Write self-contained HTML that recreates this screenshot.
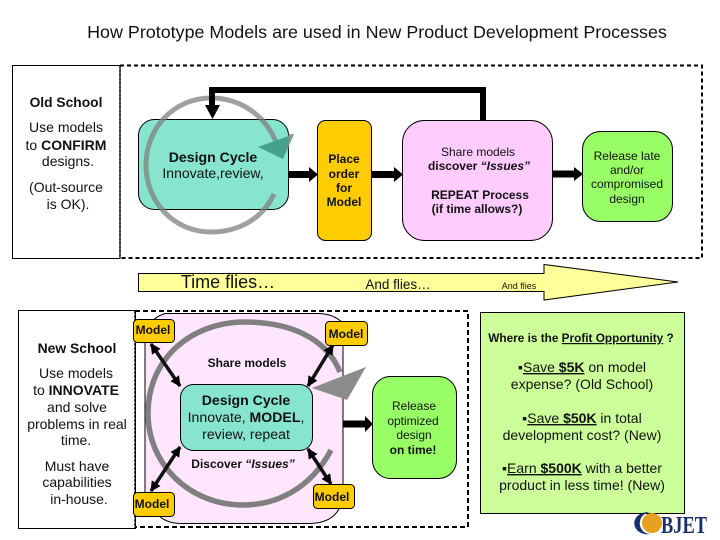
<!DOCTYPE html>
<html><head><meta charset="utf-8"><style>
html,body{margin:0;padding:0;background:#fff}
svg{display:block}
text{font-family:"Liberation Sans",sans-serif;fill:#111;text-anchor:middle}
.b{font-weight:bold}
</style></head><body>
<svg width="720" height="540" viewBox="0 0 720 540" xmlns="http://www.w3.org/2000/svg">
<defs>
<marker id="ah" viewBox="0 0 10 10" refX="9" refY="5" markerWidth="3" markerHeight="3" orient="auto-start-reverse"><path d="M0 0L10 5L0 10z" fill="#000"/></marker>
</defs>
<text x="377" y="38" font-size="17.900">How Prototype Models are used in New Product Development Processes</text>

<rect x="12.500" y="65.500" width="107.500" height="193" fill="#fff" stroke="#000"/>
<path d="M120 65.500H702V258H120" fill="none" stroke="#000" stroke-width="2" stroke-dasharray="4 3"/>
<path d="M120 65.500V258" fill="none" stroke="#000" stroke-width="1.500" stroke-dasharray="3 1"/>
<text x="66" y="107" font-size="13.800" class="b">Old School</text>
<g font-size="14">
<text x="66" y="132">Use models</text>
<text x="66" y="150">to <tspan class="b">CONFIRM</tspan></text>
<text x="68" y="166">designs.</text>
<text x="66" y="192">(Out-source</text>
<text x="68" y="209">is OK).</text>
</g>

<rect x="138.500" y="119.500" width="150" height="90" rx="16" fill="#87e5cf" stroke="#000"/>
<path d="M274 194C262 220 237 232 211 232C174 232 146 202 146 165C146 128 174 98 211 98C240 98 265 115 276 142" fill="none" stroke="#808080" stroke-opacity=".75" stroke-width="5"/>
<path d="M258 147L294 134L283 159z" fill="#45a08c"/>
<path d="M288.500 134L294 134L286 150L288.500 150z" fill="#999" opacity=".8"/>
<text x="213" y="162" font-size="14.100" class="b">Design Cycle</text>
<text x="213" y="178" font-size="14">Innovate,review,</text>

<path d="M483 120V90H212V105" fill="none" stroke="#000" stroke-width="6"/>
<path d="M205 105H220L212.500 119z" fill="#000"/>
<path d="M288 174.500H310" stroke="#000" stroke-width="7"/><path d="M309 167L318 174.500L309 182z" fill="#000"/>
<path d="M371 174.500H395" stroke="#000" stroke-width="7"/><path d="M394 167L403 174.500L394 182z" fill="#000"/>
<path d="M552 174H575" stroke="#000" stroke-width="7"/><path d="M574 167L583 174L574 181z" fill="#000"/>

<rect x="317.500" y="120.500" width="54" height="120" rx="8" fill="#ffcc00" stroke="#000"/>
<g font-size="12" class="b">
<text x="344" y="163">Place</text><text x="344" y="178">order</text><text x="344" y="192">for</text><text x="344" y="206">Model</text>
</g>
<rect x="402.500" y="120.500" width="150" height="120" rx="22" fill="#ffccff" stroke="#000"/>
<text x="478" y="156" font-size="12">Share models</text>
<text x="479" y="170" font-size="12" class="b">discover <tspan font-style="italic">“Issues”</tspan></text>
<text x="480" y="199" font-size="12" class="b">REPEAT Process</text>
<text x="477" y="213" font-size="12" class="b">(if time allows?)</text>
<rect x="582.500" y="131.500" width="90" height="90" rx="18" fill="#99ff66" stroke="#000"/>
<g font-size="12"><text x="627" y="160">Release late</text><text x="627" y="174">and/or</text><text x="627" y="188">compromised</text><text x="627" y="203">design</text></g>

<path d="M138.500 273.500H544V264.500L678 282L544 300V291.500H138.500z" fill="#ffff99" stroke="#000"/>
<text x="228" y="288" font-size="18">Time flies…</text>
<text x="398" y="289" font-size="13.500">And flies…</text>
<text x="519" y="289" font-size="9">And flies</text>

<rect x="18.500" y="310.500" width="117" height="218" fill="#fff" stroke="#000"/>
<path d="M135 311H468V527H135" fill="none" stroke="#000" stroke-width="2" stroke-dasharray="5 3"/>
<path d="M135 311V528" fill="none" stroke="#000" stroke-width="1.500" stroke-dasharray="3 1"/>
<path d="M165 313.500H318Q333 313.500 343 323V498Q338 523 310 523.500H180Q160 523 150 505L145 500V340Q145 320 165 313.500z" fill="#ffe6ff" stroke="#000"/>
<path d="M331 450C310 490 275 505 243 505C190 505 148 465 148 413C148 360 190 322 245 322C285 322 325 335 340 372" fill="none" stroke="#808080" stroke-width="5.500"/>
<path d="M312 388L366 367L347 400z" fill="#8c8c8c"/>

<text x="77" y="353" font-size="13.900" class="b">New School</text>
<g font-size="14">
<text x="76" y="378">Use models</text>
<text x="76" y="395">to <tspan class="b">INNOVATE</tspan></text>
<text x="77" y="412">and solve</text>
<text x="77" y="429">problems in real</text>
<text x="76" y="445">time.</text>
<text x="77" y="471">Must have</text>
<text x="77" y="487">capabilities</text>
<text x="79" y="504">in-house.</text>
</g>

<rect x="180.500" y="384.500" width="132" height="66" rx="13" fill="#87e5cf" stroke="#000"/>
<text x="246" y="405" font-size="14.100" class="b">Design Cycle</text>
<text x="246" y="422" font-size="14.100">Innovate, <tspan class="b">MODEL</tspan>,</text>
<text x="246" y="439" font-size="14.100">review, repeat</text>
<text x="247" y="367" font-size="12" class="b">Share models</text>
<text x="243" y="468" font-size="12" class="b">Discover <tspan font-style="italic">“Issues”</tspan></text>

<g stroke="#111" stroke-width="3.500">
<line x1="151" y1="344" x2="180" y2="386" marker-start="url(#ah)" marker-end="url(#ah)"/>
<line x1="333" y1="345" x2="308" y2="386" marker-start="url(#ah)" marker-end="url(#ah)"/>
<line x1="151" y1="491" x2="180" y2="447" marker-start="url(#ah)" marker-end="url(#ah)"/>
<line x1="308" y1="449" x2="331" y2="484" marker-start="url(#ah)" marker-end="url(#ah)"/>
</g>

<g fill="#ffcc00" stroke="#000">
<rect x="133.500" y="319.500" width="41" height="23" rx="4"/>
<rect x="325.500" y="321.500" width="42" height="24" rx="4"/>
<rect x="133.500" y="492.500" width="41" height="24" rx="4"/>
<rect x="313.500" y="484.500" width="41" height="24" rx="4"/>
</g>
<g font-size="12" class="b">
<text x="153" y="334">Model</text><text x="346" y="338">Model</text><text x="152" y="508">Model</text><text x="332" y="501">Model</text>
</g>

<path d="M343 424H366" stroke="#000" stroke-width="7"/><path d="M365 416L373 424L365 432z" fill="#000"/>
<rect x="372.500" y="376.500" width="84" height="102" rx="18" fill="#99ff66" stroke="#000"/>
<g font-size="12"><text x="414" y="410">Release</text><text x="413" y="425">optimized</text><text x="414" y="439">design</text><text x="413" y="454" class="b">on time!</text></g>

<rect x="480.500" y="312.500" width="204" height="201" fill="#ccff99" stroke="#000"/>
<text x="581" y="342" font-size="11.800" class="b">Where is the <tspan text-decoration="underline">Profit Opportunity</tspan> ?</text>
<g font-size="14">
<text x="582" y="372">▪<tspan text-decoration="underline">Save <tspan class="b">$5K</tspan></tspan> on model</text>
<text x="582" y="389">expense? (Old School)</text>
<text x="582" y="423">▪<tspan text-decoration="underline">Save <tspan class="b">$50K</tspan></tspan> in total</text>
<text x="582" y="440">development cost? (New)</text>
<text x="582" y="473">▪<tspan text-decoration="underline">Earn <tspan class="b">$500K</tspan></tspan> with a better</text>
<text x="582" y="490">product in less time! (New)</text>
</g>

<circle cx="652" cy="523" r="10" fill="#e8a020"/>
<path d="M650 512.500A13 11 0 1 0 650 534A10 10.500 0 0 1 650 512.500z" fill="#16306e"/>
<text x="684" y="533" font-size="24" class="b" style="fill:#16306e;font-family:'Liberation Serif',serif" textLength="46" lengthAdjust="spacingAndGlyphs">BJET</text>
</svg>
</body></html>
